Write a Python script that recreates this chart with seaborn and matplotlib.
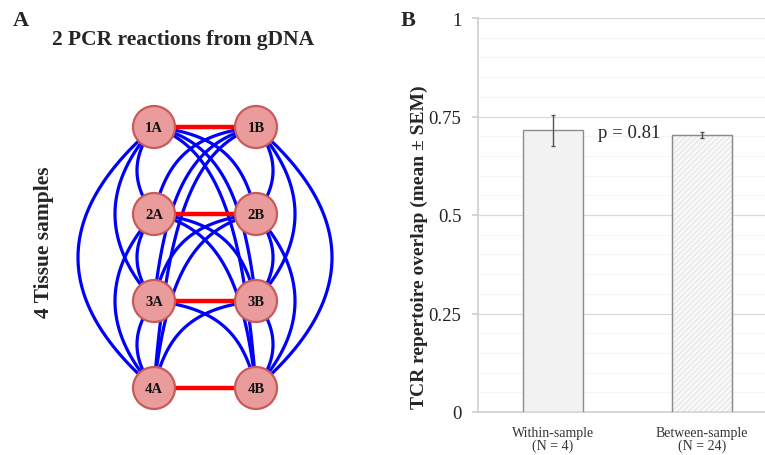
import numpy as np
import pandas as pd
import matplotlib
matplotlib.use("Agg")
import matplotlib.pyplot as plt
from matplotlib.patches import Circle, Rectangle
import seaborn as sns

# ---------------- data ----------------
# Panel A: network layout (two PCR reactions x four tissue samples)
reactions = ["A", "B"]
samples = ["1", "2", "3", "4"]
reaction_x = [154, 256]          # layout position of each PCR reaction column
sample_y = [128, 215, 302, 389]  # layout position of each tissue-sample row

# Panel B: bar chart
categories = ["Within-sample\n(N = 4)", "Between-sample\n(N = 24)"]
overlap_mean = [0.715, 0.703]
overlap_sem = [0.040, 0.007]
p_text = "p = 0.81"

# ---------------- style ----------------
sns.set_theme(style="white")
plt.rcParams["font.family"] = ["Liberation Serif", "DejaVu Serif"]
plt.rcParams["hatch.color"] = "#DDDDDD"
plt.rcParams["hatch.linewidth"] = 0.5

fig = plt.figure(figsize=(7.65, 4.56), dpi=100)

# ---- Panel A ----
ax0 = fig.add_axes([0, 0, 1, 1])
ax0.set_xlim(0, 765)
ax0.set_ylim(456, 0)
ax0.axis("off")

same_col_bulge = {1: 17, 2: 39, 3: 76}
blue = "#0000FF"
red = "#FF0000"

nodes = [(c, r) for c in range(2) for r in range(4)]


def quad(p0, p1, p2, n=80):
    t = np.linspace(0, 1, n)[:, None]
    return (1 - t) ** 2 * p0 + 2 * (1 - t) * t * p1 + t ** 2 * p2


def cubic(p0, p1, p2, p3, n=80):
    t = np.linspace(0, 1, n)[:, None]
    return ((1 - t) ** 3 * p0 + 3 * (1 - t) ** 2 * t * p1
            + 3 * (1 - t) * t ** 2 * p2 + t ** 3 * p3)


for i in range(len(nodes)):
    for j in range(i + 1, len(nodes)):
        c1, r1 = nodes[i]
        c2, r2 = nodes[j]
        if r1 == r2:
            continue
        if r1 > r2:
            c1, r1, c2, r2 = c2, r2, c1, r1
        U = np.array([reaction_x[c1], sample_y[r1]], float)
        L = np.array([reaction_x[c2], sample_y[r2]], float)
        if c1 == c2:
            sign = -1 if c1 == 0 else 1
            mid = (U + L) / 2
            ctrl = mid + np.array([sign * 2 * same_col_bulge[r2 - r1], 0])
            pts = quad(U, ctrl, L)
        else:
            d = L - U
            P1 = U + np.array([0.65 * d[0], 0.08 * d[1]])
            P2 = L + np.array([-0.12 * d[0], -0.6 * d[1]])
            pts = cubic(U, P1, P2, L)
        ax0.plot(pts[:, 0], pts[:, 1], color=blue, lw=2.3, zorder=1,
                 solid_capstyle="round")

for r in range(4):
    ax0.plot(reaction_x, [sample_y[r]] * 2, color=red, lw=3.2, zorder=2)

for c in range(2):
    for r in range(4):
        ax0.add_patch(Circle((reaction_x[c], sample_y[r]), 21,
                             facecolor="#EA9B9B", edgecolor="#C85A5A",
                             lw=1.6, zorder=3))
        ax0.text(reaction_x[c], sample_y[r] + 1, samples[r] + reactions[c],
                 ha="center", va="center", fontsize=10.5, fontweight="bold",
                 color="#111111", zorder=4)

ax0.text(21, 21, "A", fontsize=16, fontweight="bold", ha="center", va="center")
ax0.text(183, 40, "2 PCR reactions from gDNA", fontsize=15.5,
         fontweight="bold", ha="center", va="center")
ax0.text(44, 242, "4 Tissue samples", fontsize=15.5, fontweight="bold",
         rotation=90, ha="center", va="center")
ax0.text(408, 21, "B", fontsize=16, fontweight="bold", ha="center", va="center")

# ---- Panel B ----
ax = fig.add_axes([478 / 765, 43 / 456, 1 - 478 / 765, 394 / 456])
df = pd.DataFrame({"cat": categories, "mean": overlap_mean})
sns.barplot(data=df, x="cat", y="mean", ax=ax, color="#F2F2F2",
            edgecolor="#8C8C8C", linewidth=1.0, width=0.4, errorbar=None,
            zorder=3)
hb = ax.patches[1]
hb.set_facecolor("#F8F8F8")
hb.set_hatch("//////")
hb.set_edgecolor("#DDDDDD")
if hasattr(hb, "set_hatchcolor"):
    hb.set_hatchcolor("#DDDDDD")
ax.add_patch(Rectangle(hb.get_xy(), hb.get_width(), hb.get_height(),
                       fill=False, edgecolor="#8C8C8C", lw=1.0, zorder=3.5))
ax.errorbar(range(len(categories)), overlap_mean, yerr=overlap_sem, fmt="none",
            ecolor="#555555", elinewidth=1.0, capsize=1.5, capthick=1.0,
            zorder=4)

ax.set_xlim(-0.5, 1.42)
ax.set_ylim(0, 1)
ax.set_yticks([0, 0.25, 0.5, 0.75, 1])
ax.set_yticklabels(["0", "0.25", "0.5", "0.75", "1"], fontsize=13.5,
                   color="#222222")
ax.set_yticks(np.arange(0.05, 1.0, 0.05), minor=True)
ax.set_xticks([0, 1])
ax.set_xticklabels(categories, fontsize=10, color="#333333",
                   linespacing=1.0)
ax.set_xlabel("")
ax.set_ylabel("TCR repertoire overlap (mean ± SEM)", fontsize=14,
              fontweight="bold")
ax.yaxis.set_label_coords(-0.175, 0.42)

ax.grid(axis="y", which="major", color="#D9D9D9", lw=0.9, zorder=0)
ax.grid(axis="y", which="minor", color="#F5F5F5", lw=0.8, zorder=0)
ax.set_axisbelow(True)
for s in ["top", "right"]:
    ax.spines[s].set_visible(False)
ax.spines["left"].set_color("#D0D0D0")
ax.spines["bottom"].set_color("#D0D0D0")
ax.tick_params(axis="y", which="major", left=True, length=4, color="#D0D0D0",
               pad=8)
ax.tick_params(axis="y", which="minor", left=False)
ax.tick_params(axis="x", which="major", bottom=False, pad=4)
ax.set_facecolor("white")

ax.text(0.3, 0.71, p_text, fontsize=13.5, ha="left", va="center", zorder=5)

fig.savefig("out.png", dpi=100, facecolor="white")
